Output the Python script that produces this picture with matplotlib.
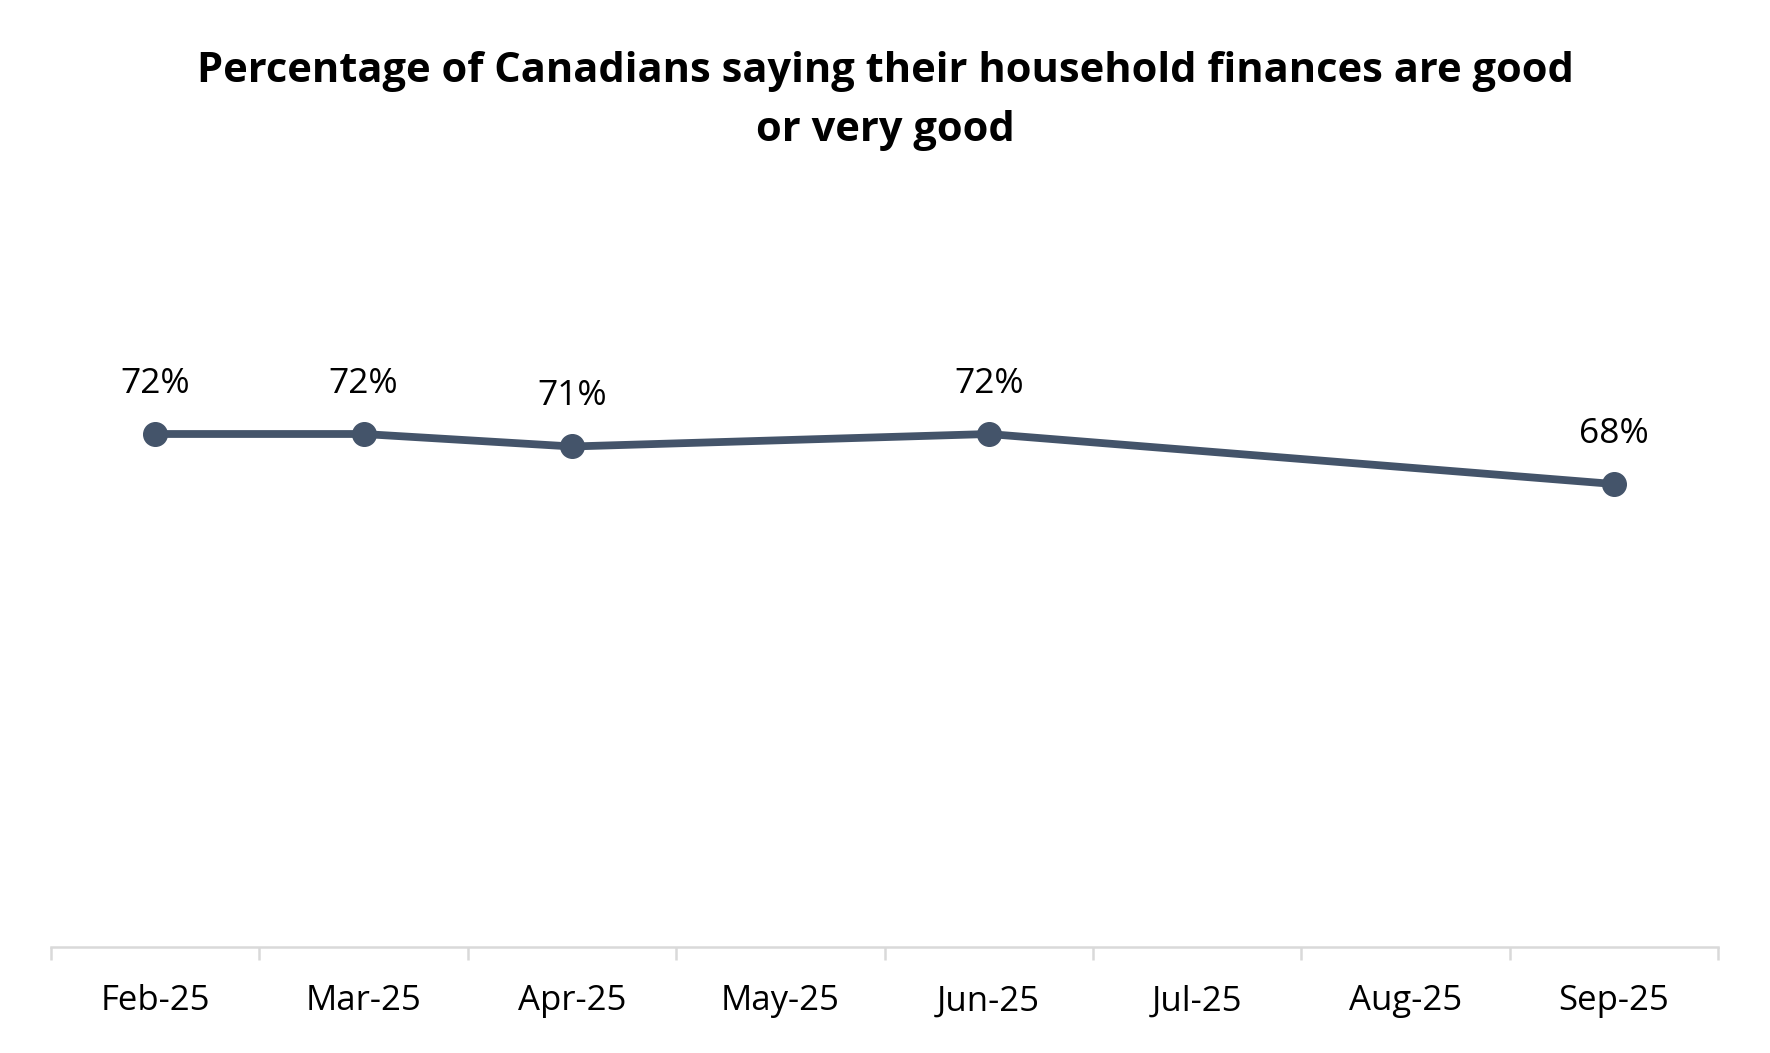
import matplotlib.pyplot as plt

months = ["Feb-25", "Mar-25", "Apr-25", "May-25", "Jun-25", "Jul-25", "Aug-25", "Sep-25"]
# only these months have survey values
value_months = ["Feb-25", "Mar-25", "Apr-25", "Jun-25", "Sep-25"]
values = [72, 72, 71, 72, 68]
labels = ["72%", "72%", "71%", "72%", "68%"]

line_color = "#44546A"

plt.rcParams['font.family'] = ['Open Sans', 'DejaVu Sans']

fig = plt.figure(figsize=(17.7, 10.53), dpi=100)
ax = fig.add_axes([51 / 1770, 1 - 947 / 1053, (1718 - 51) / 1770, (947 - 200) / 1053])

xs = [months.index(m) for m in value_months]
ax.plot(xs, values, color=line_color, linewidth=5.6, marker="o", markersize=17,
        solid_capstyle="round", zorder=3)

for x, v, lab in zip(xs, values, labels):
    ax.annotate(lab, (x, v), xytext=(0, 24), textcoords="offset points",
                ha="center", va="bottom", fontsize=25.5, color="black")

ax.set_xlim(-0.5, len(months) - 0.5)
ax.set_ylim(30.96, 90.72)

ax.set_xticks(range(len(months)))
ax.set_xticklabels(months, fontsize=25)
ax.set_xticks([i - 0.5 for i in range(len(months) + 1)], minor=True)
ax.tick_params(axis="x", which="major", length=0, pad=27)
ax.tick_params(axis="x", which="minor", length=9, width=1.8, color="#D9D9D9")
ax.set_yticks([])

for s in ["top", "left", "right"]:
    ax.spines[s].set_visible(False)
ax.spines["bottom"].set_color("#D9D9D9")
ax.spines["bottom"].set_linewidth(1.8)

fig.text(0.5, 1 - 101 / 1053, "Percentage of Canadians saying their household finances are good\nor very good",
         ha="center", va="center", fontsize=30, fontweight="bold", linespacing=1.56)

fig.savefig("out.png", dpi=100, facecolor="white")
